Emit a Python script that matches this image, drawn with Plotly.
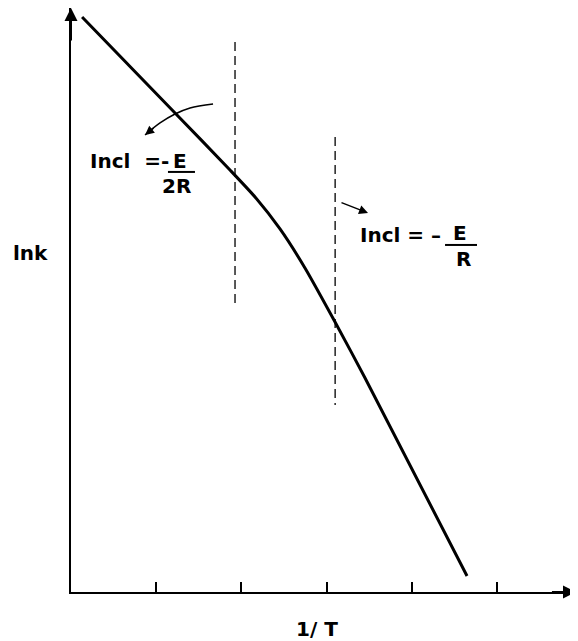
import plotly.graph_objects as go

# lnk vs 1/T curve (arbitrary units)
inv_t = [0.13, 1.221, 1.866, 2.160, 2.453, 2.746, 3.099, 3.451, 4.648]
ln_k = [6.749, 5.622, 4.953, 4.636, 4.261, 3.803, 3.169, 2.512, 0.188]

# vertical dashed markers
dash1_x = [1.925, 1.925]
dash1_y = [6.455, 3.369]
dash2_x = [3.10, 3.10]
dash2_y = [5.34, 2.195]

# curved pointer near the upper label
arc_x = [1.667, 1.397, 1.221, 1.045, 0.869]
arc_y = [5.728, 5.681, 5.610, 5.505, 5.364]

x_ticks = [1, 2, 3, 4, 5]
X_MAX = 5.927
Y_MAX = 6.854

FONT = dict(family="DejaVu Sans, sans-serif", size=20, color="black", weight="bold")

fig = go.Figure()
fig.add_trace(go.Scatter(x=inv_t, y=ln_k, mode="lines",
                         line=dict(color="black", width=3, shape="spline", smoothing=0.6),
                         hoverinfo="skip"))
for dx, dy in [(dash1_x, dash1_y), (dash2_x, dash2_y)]:
    fig.add_trace(go.Scatter(x=dx, y=dy, mode="lines",
                             line=dict(color="black", width=1.3, dash="9px,5px"),
                             hoverinfo="skip"))
fig.add_trace(go.Scatter(x=arc_x, y=arc_y, mode="lines",
                         line=dict(color="black", width=1.5, shape="spline"),
                         hoverinfo="skip"))

annos = [
    # axis arrowheads
    dict(x=0, y=Y_MAX, ax=0, ay=Y_MAX - 0.4, axref="x", ayref="y",
         showarrow=True, arrowhead=2, arrowsize=1.3, arrowwidth=2, text=""),
    dict(x=X_MAX, y=0, ax=X_MAX - 0.3, ay=0, axref="x", ayref="y",
         showarrow=True, arrowhead=2, arrowsize=1.3, arrowwidth=2, text=""),
    # pointer heads
    dict(x=arc_x[-1], y=arc_y[-1], ax=0.986, ay=5.458, axref="x", ayref="y",
         showarrow=True, arrowhead=2, arrowsize=1.2, arrowwidth=1.5, text=""),
    dict(x=3.486, y=4.448, ax=3.157, ay=4.577, axref="x", ayref="y",
         showarrow=True, arrowhead=2, arrowsize=1.2, arrowwidth=1.5, text=""),
    # axis labels (outside the plot area, so paper coords)
    dict(x=-0.081, y=0.58, xref="paper", yref="paper", text="lnk", showarrow=False,
         xanchor="center", yanchor="middle"),
    dict(x=0.487, y=-0.063, xref="paper", yref="paper", text="1/ T", showarrow=False,
         xanchor="center", yanchor="middle"),
    # slope labels
    dict(x=0.2, y=5.059, text="Incl  =-", showarrow=False, xanchor="left"),
    dict(x=1.279, y=5.059, text="E", showarrow=False),
    dict(x=1.244, y=4.765, text="2R", showarrow=False),
    dict(x=3.369, y=4.190, text="Incl = \u2013", showarrow=False, xanchor="left"),
    dict(x=4.566, y=4.214, text="E", showarrow=False),
    dict(x=4.601, y=3.908, text="R", showarrow=False),
]
for a in annos:
    a.setdefault("xref", "x")
    a.setdefault("yref", "y")
    a["font"] = FONT
    a["arrowcolor"] = "black"
fig.update_layout(annotations=annos)

# fraction bars
fig.add_shape(type="line", x0=1.138, x1=1.455, y0=4.930, y1=4.930,
              line=dict(color="black", width=2))
fig.add_shape(type="line", x0=4.390, x1=4.765, y0=4.073, y1=4.073,
              line=dict(color="black", width=2))

fig.update_xaxes(range=[0, X_MAX], showgrid=False, zeroline=False,
                 showline=True, linecolor="black", linewidth=2,
                 tickvals=x_ticks, ticks="inside", ticklen=10, tickcolor="black",
                 tickwidth=1.5, showticklabels=False)
fig.update_yaxes(range=[0, Y_MAX], showgrid=False, zeroline=False,
                 showline=True, linecolor="black", linewidth=2,
                 showticklabels=False, ticks="")
# page body adds 8px, so the margins are shifted by that much
fig.update_layout(width=578, height=641, showlegend=False,
                  plot_bgcolor="white", paper_bgcolor="white",
                  margin=dict(l=63, r=10, t=0, b=57, autoexpand=False))

fig.write_html("out.html")
